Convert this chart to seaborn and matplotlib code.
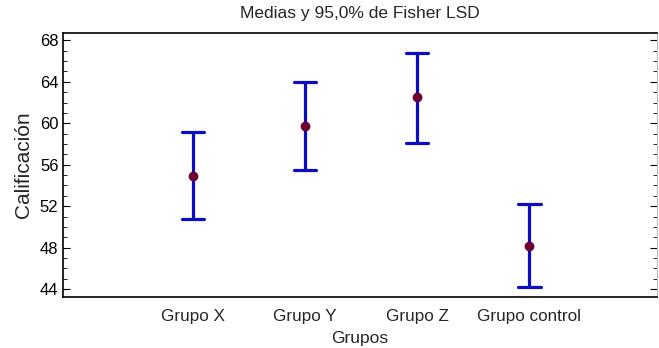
import matplotlib
matplotlib.use("Agg")
import matplotlib.pyplot as plt
import numpy as np
import pandas as pd
import seaborn as sns

# datos (media y limites del intervalo LSD al 95%)
grupos = ["Grupo X", "Grupo Y", "Grupo Z", "Grupo control"]
medias = [54.95, 59.7, 62.5, 48.2]
limite_inf = [50.75, 55.45, 58.1, 44.2]
limite_sup = [59.2, 64.0, 66.8, 52.25]
yticks = [44, 48, 52, 56, 60, 64, 68]

sns.set_style("white")
plt.rcParams["font.family"] = ["Liberation Sans", "DejaVu Sans"]

# tabla larga: limite inferior, media y superior por grupo
df = pd.DataFrame({
    "Grupos": grupos * 3,
    "valor": limite_inf + medias + limite_sup,
})

fig, ax = plt.subplots(figsize=(6.59, 3.48), dpi=100)

# barras de error (min-max de los tres valores = intervalo)
sns.pointplot(data=df, x="Grupos", y="valor", order=grupos,
              estimator="median", errorbar=("pi", 100),
              color="#0c0cc4", markers="", linestyle="none",
              capsize=0.2, err_kws={"linewidth": 2.3}, ax=ax)
# puntos de la media
sns.pointplot(data=df, x="Grupos", y="valor", order=grupos,
              estimator="median", errorbar=None,
              color="#6e0033", markers="o", markersize=5,
              linestyle="none", ax=ax)

ax.set_xlim(-1.16, 4.14)
ax.set_ylim(43.25, 68.7)
ax.set_yticks(yticks)
ax.set_yticks(np.arange(44, 69, 1), minor=True)
ax.tick_params(axis="y", which="both", direction="in", left=True, right=True,
               labelsize=12, colors="black")
ax.tick_params(axis="y", which="major", length=5)
ax.tick_params(axis="y", which="minor", length=3)
ax.tick_params(axis="x", bottom=False, labelsize=12.3, pad=5)

for s in ["top", "bottom", "left"]:
    ax.spines[s].set_color("black")
    ax.spines[s].set_linewidth(1.2)
ax.spines["right"].set_color("#bbbbbb")

ax.set_title("Medias y 95,0% de Fisher LSD", fontsize=12.5, pad=11)
ax.set_xlabel("Grupos", fontsize=12.5, labelpad=5)
ax.set_ylabel("Calificación", fontsize=15, labelpad=5)

plt.subplots_adjust(left=0.096, right=0.997, top=0.905, bottom=0.147)
plt.savefig("out.png", dpi=100)
